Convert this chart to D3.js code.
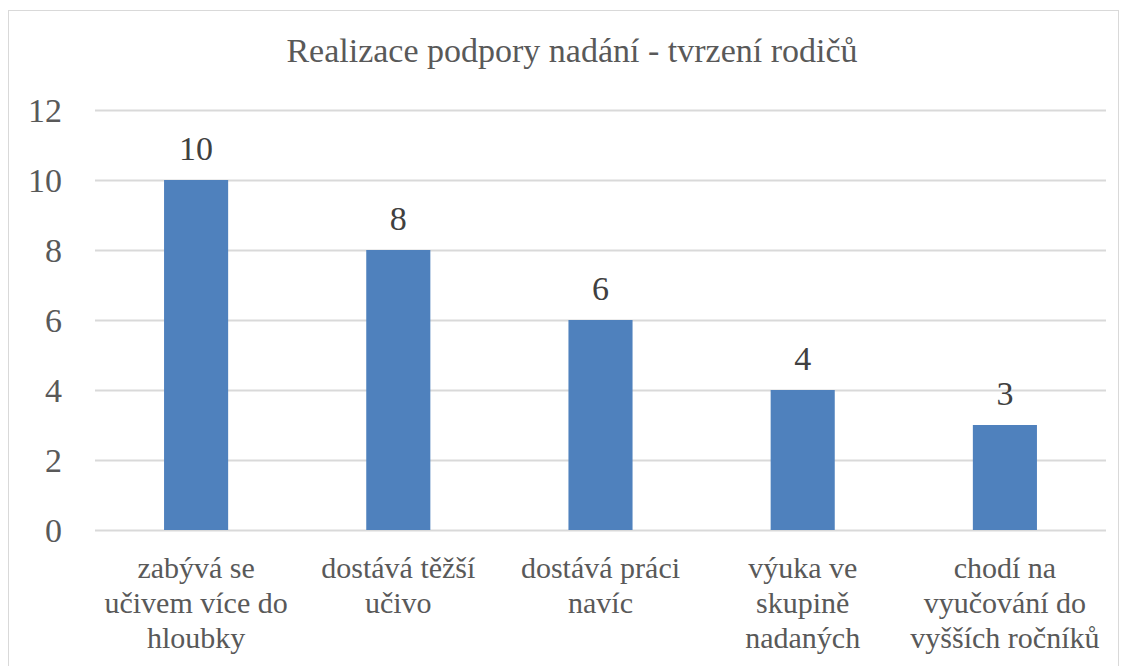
<!DOCTYPE html>
<html>
<head>
<meta charset="utf-8">
<script src="https://cdn.jsdelivr.net/npm/d3@7"></script>
<style>
  body { margin: 0; background: #fff; }
  svg text, svg tspan { font-family: 'Liberation Serif', serif !important; }
</style>
</head>
<body>
<div id="chart"></div>
<script>
var width = 1122, height = 666;
var fontFamily = "'Liberation Serif', serif";

// data
var categories = [
    "zabývá se\nučivem více do\nhloubky",
    "dostává těžší\nučivo",
    "dostává práci\nnavíc",
    "výuka ve\nskupině\nnadaných",
    "chodí na\nvyučování do\nvyšších ročníků"
];
var values = [10, 8, 6, 4, 3];
var yTicks = [0, 2, 4, 6, 8, 10, 12];
var title = "Realizace podpory nadání - tvrzení rodičů";

var margin = { top: 110, right: 16, bottom: 136, left: 95 };

var svg = d3.select("#chart")
    .append("svg")
    .attr("width", width)
    .attr("height", height)
    .style("font-family", fontFamily, "important");

// chart frame
svg.append("rect")
    .attr("x", 8.5)
    .attr("y", 10.5)
    .attr("width", 1110)
    .attr("height", 700)
    .attr("fill", "none")
    .attr("stroke", "#d9d9d9");

let x = d3.scaleBand()
    .domain(categories)
    .range([margin.left, width - margin.right])
    .paddingInner(0.683)
    .paddingOuter(0.3415);

let y = d3.scaleLinear()
    .domain([0, 12])
    .range([height - margin.bottom, margin.top]);

// gridlines
let yAxis = d3.axisLeft(y)
    .tickValues(yTicks)
    .tickSize(-(width - margin.left - margin.right))
    .tickFormat(d => d);

let gy = svg.append("g")
    .attr("transform", `translate(${margin.left}, 0)`)
    .call(yAxis)
    .attr("font-family", null)
    .attr("font-size", 34);
gy.select(".domain").remove();
gy.selectAll(".tick line")
    .attr("stroke", "#d9d9d9")
    .attr("stroke-width", 2);
gy.selectAll(".tick text")
    .attr("x", -33)
    .attr("dy", "0.34em")
    .attr("fill", "#595959");

// bars
svg.selectAll("rect.bar")
    .data(values)
    .enter()
    .append("rect")
    .attr("class", "bar")
    .attr("x", (d, i) => x(categories[i]))
    .attr("width", x.bandwidth())
    .attr("y", d => y(d))
    .attr("height", d => y(0) - y(d))
    .attr("fill", "#4f81bd");

// value labels
svg.selectAll("text.valueLabel")
    .data(values)
    .enter()
    .append("text")
    .attr("class", "valueLabel")
    .attr("x", (d, i) => x(categories[i]) + x.bandwidth() / 2)
    .attr("y", d => y(d) - 20)
    .attr("text-anchor", "middle")
    .attr("font-size", 34)
    .attr("fill", "#404040")
    .text(d => d);

// category labels
let cat = svg.selectAll("text.catLabel")
    .data(categories)
    .enter()
    .append("text")
    .attr("class", "catLabel")
    .attr("text-anchor", "middle")
    .attr("font-size", 30)
    .attr("fill", "#595959");

cat.selectAll("tspan")
    .data(d => d.split("\n").map(t => ({ t: t, c: d })))
    .enter()
    .append("tspan")
    .attr("x", d => x(d.c) + x.bandwidth() / 2)
    .attr("y", (d, i) => y(0) + 48 + i * 35)
    .text(d => d.t);

// title
svg.append("text")
    .attr("x", 572)
    .attr("y", 62)
    .attr("text-anchor", "middle")
    .attr("font-size", 34)
    .attr("fill", "#595959")
    .text(title);

svg.selectAll("text, tspan").style("font-family", fontFamily, "important");
</script>
</body>
</html>
